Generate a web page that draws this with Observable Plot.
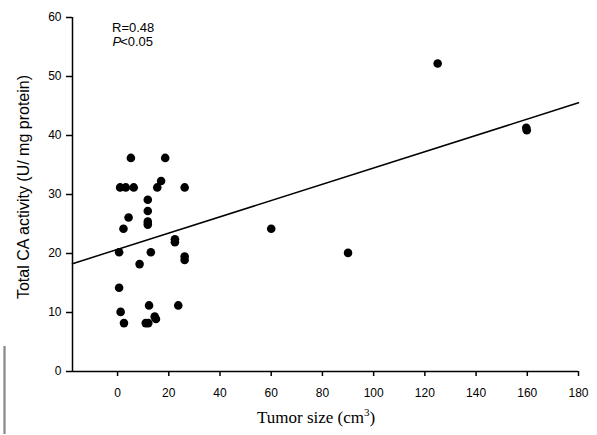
<!DOCTYPE html>
<html><head><meta charset="utf-8">
<script src="https://cdn.jsdelivr.net/npm/d3@7"></script>
<script src="https://cdn.jsdelivr.net/npm/@observablehq/plot@0.6"></script>
<style>
body{margin:0;background:#fff}
#chart{position:relative;width:597px;height:435px}
#bar{position:absolute;left:3px;top:346px;width:3px;height:88px;background:linear-gradient(to right,#c8c8c8,#8a8a8a,#c8c8c8)}
</style>
</head><body><div id="chart"><div id="bar"></div></div>
<script>
// Tumor size (cm^3)
const tumorSize = [5.2, 18.6, 1.0, 3.2, 6.3, 15.5, 17.0, 26.2, 11.8, 11.8, 4.3, 11.8, 11.8, 2.3,
  22.4, 22.4, 0.6, 13.0, 26.2, 26.2, 8.6, 0.6, 12.3, 23.7, 1.2, 2.5, 11.0, 12.0, 14.5, 15.0,
  60, 90, 125, 159.6, 159.8];
// Total CA activity (U/ mg protein)
const caActivity = [36.2, 36.2, 31.2, 31.2, 31.2, 31.2, 32.3, 31.2, 29.1, 27.2, 26.1, 24.9, 25.4, 24.2,
  22.4, 21.9, 20.2, 20.2, 19.5, 18.9, 18.2, 14.2, 11.2, 11.2, 10.1, 8.2, 8.2, 8.2, 9.3, 8.9,
  24.2, 20.1, 52.2, 41.3, 40.9];
const xTicks = [0, 20, 40, 60, 80, 100, 120, 140, 160, 180];
const yTicks = [0, 10, 20, 30, 40, 50, 60];
const xDomain = [-17.6, 180];
const yDomain = [0, 60];
const regIntercept = 20.7;
const regSlope = 0.138;
const statR = "R=0.48";
const statP = "<0.05";

const points = tumorSize.map((x, i) => ({x, y: caActivity[i]}));
const regLine = xDomain.map(x => ({x, y: regIntercept + regSlope * x}));

const font = "'Liberation Sans', Arial, sans-serif";
const plot = Plot.plot({
  width: 597,
  height: 435,
  marginLeft: 72,
  marginRight: 19,
  marginTop: 17,
  marginBottom: 64,
  style: {fontFamily: font, fontSize: "12px", color: "black", background: "white", overflow: "visible"},
  x: {domain: xDomain},
  y: {domain: yDomain},
  marks: [
    Plot.axisX({ticks: xTicks, tickSize: 5, tickPadding: 12, strokeWidth: 1.5, label: null, fontSize: 12}),
    Plot.axisY({ticks: yTicks, tickSize: 6, tickPadding: 5, strokeWidth: 1.5, label: null, fontSize: 12}),
    Plot.ruleY([yDomain[0]], {strokeWidth: 1.5, stroke: "black"}),
    Plot.ruleX([xDomain[0]], {strokeWidth: 1.5, stroke: "black"}),
    Plot.line(regLine, {x: "x", y: "y", stroke: "black", strokeWidth: 1.5}),
    Plot.dot(points, {x: "x", y: "y", r: 4.3, fill: "black", stroke: "none"})
  ]
});
document.getElementById("chart").appendChild(plot);

const svg = d3.select(plot);
// Y axis title
svg.append("text")
  .attr("transform", "translate(28.5,187) rotate(-90)")
  .attr("text-anchor", "middle")
  .style("font-family", font).style("font-size", "16px").attr("fill", "black")
  .text("Total CA activity (U/ mg protein)");
// X axis title
const xt = svg.append("text")
  .attr("x", 257).attr("y", 423).attr("text-anchor", "start")
  .style("font-family", "'Liberation Serif', 'Times New Roman', serif").style("font-size", "17px").attr("fill", "black");
xt.append("tspan").text("Tumor size (cm");
xt.append("tspan").attr("dy", -7).style("font-size", "11px").text("3");
xt.append("tspan").attr("dy", 7).text(")");
// Statistics annotation
svg.append("text").attr("x", 112).attr("y", 31.7).attr("text-anchor", "start")
  .style("font-family", font).style("font-size", "13px").attr("fill", "black").text(statR);
const pt = svg.append("text").attr("x", 112.5).attr("y", 45.7).attr("text-anchor", "start")
  .style("font-family", font).style("font-size", "13px").attr("fill", "black");
pt.append("tspan").style("font-style", "italic").text("P");
pt.append("tspan").attr("dx", -1).text(statP);
</script>
</body></html>
